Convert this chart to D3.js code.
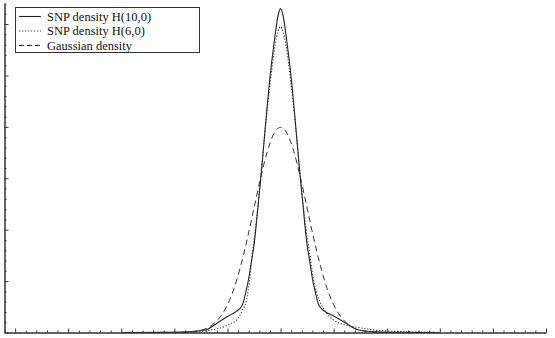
<!DOCTYPE html>
<html><head><meta charset="utf-8">
<script src="https://cdn.jsdelivr.net/npm/d3@7"></script>
<style>body{margin:0;background:#fff}svg{display:block}</style>
</head><body>
<script>
// Series
const snp10X = [-6,-4,-3.5,-3,-2.77,-2.4,-2,-1.7,-1.55,-1.42,-1.32,-1.2,-1.1,-1.0,-0.85,-0.7,-0.55,-0.41,-0.23,-0.1,0,0.1,0.23,0.41,0.55,0.7,0.85,1.0,1.1,1.2,1.32,1.42,1.55,1.7,2.0,2.4,2.88,3.2,3.6,4,6];
const snp10Y = [0,0.0005,0.0015,0.004,0.006,0.018,0.031,0.04,0.046,0.056,0.076,0.105,0.138,0.17,0.245,0.325,0.414,0.491,0.569,0.615,0.63,0.615,0.569,0.491,0.414,0.325,0.245,0.17,0.138,0.105,0.076,0.056,0.046,0.04,0.032,0.02,0.006,0.003,0.0012,0.0005,0];
const snp6X = [-6,-4,-3,-2.6,-2.2,-1.9,-1.64,-1.45,-1.28,-1.17,-1.05,-0.95,-0.75,-0.55,-0.38,-0.2,-0.1,0,0.1,0.2,0.38,0.55,0.75,0.95,1.08,1.25,1.45,1.7,1.98,2.4,2.9,3.5,4.4,5,6];
const snp6Y = [0,0.0003,0.002,0.005,0.01,0.017,0.025,0.042,0.064,0.1,0.16,0.2,0.3,0.41,0.49,0.56,0.585,0.595,0.585,0.56,0.49,0.41,0.3,0.205,0.16,0.1,0.064,0.04,0.025,0.015,0.01,0.005,0.002,0.001,0];
const gaussX = [-6,-5,-4,-3.5,-3.25,-3,-2.75,-2.5,-2.25,-2,-1.75,-1.5,-1.25,-1,-0.75,-0.5,-0.25,0,0.25,0.5,0.75,1,1.25,1.5,1.75,2,2.25,2.5,2.75,3,3.25,3.5,4,5,6];
const gaussY = [0,0,0.0001,0.0009,0.002,0.0044,0.009,0.018,0.032,0.054,0.086,0.13,0.183,0.242,0.301,0.352,0.387,0.399,0.387,0.352,0.301,0.242,0.183,0.13,0.086,0.054,0.032,0.018,0.009,0.0044,0.002,0.0009,0.0001,0,0];
const seriesNames = ["SNP density H(10,0)", "SNP density H(6,0)", "Gaussian density"];
const xMajorTicks = [-10,-8,-6,-4,-2,0,2,4,6,8,10];
const yMajorTicks = [0,0.1,0.2,0.3,0.4,0.5,0.6];

const W = 555, H = 338;
const svg = d3.select("body").append("svg").attr("width", W).attr("height", H);
const x = d3.scaleLinear().domain([-10.4, 10]).range([4.5, 546]);
const y = d3.scaleLinear().domain([0, 0.64]).range([332.5, 3.5]);

// minor tick values
const xMinor = d3.range(-10.4, 10.001, 0.4).map(v => +v.toFixed(2)).filter(v => !xMajorTicks.some(m => Math.abs(m - v) < 1e-6));
const yMinor = d3.range(0, 0.6401, 0.02).map(v => +v.toFixed(3)).filter(v => !yMajorTicks.some(m => Math.abs(m - v) < 1e-6));

const gx = svg.append("g").attr("transform", `translate(0,${y(0)})`);
gx.call(d3.axisTop(x).tickValues(xMajorTicks).tickSize(4).tickFormat("").tickSizeOuter(0));
gx.append("g").call(d3.axisTop(x).tickValues(xMinor).tickSize(2).tickFormat("").tickSizeOuter(0));
const gy = svg.append("g").attr("transform", `translate(${x(-10.4)},0)`);
gy.call(d3.axisRight(y).tickValues(yMajorTicks).tickSize(4).tickFormat("").tickSizeOuter(0));
gy.append("g").call(d3.axisRight(y).tickValues(yMinor).tickSize(2).tickFormat("").tickSizeOuter(0));
svg.selectAll(".domain").attr("stroke", "#333");
svg.selectAll(".tick line").attr("stroke", "#333");

const line = d3.line().x(d => x(d[0])).y(d => y(d[1])).curve(d3.curveMonotoneX);
const styles = [
  {dash: null, w: 1.1, c: "#222"},
  {dash: "1.2,1.8", w: 1.1, c: "#333"},
  {dash: "6,4", w: 1, c: "#333"}
];
const data = [d3.zip(snp10X, snp10Y), d3.zip(snp6X, snp6Y), d3.zip(gaussX, gaussY)];
data.forEach((d, i) => {
  svg.append("path").datum(d).attr("d", line).attr("fill", "none")
    .attr("stroke", styles[i].c).attr("stroke-width", styles[i].w)
    .attr("stroke-dasharray", styles[i].dash);
});

// legend
const lg = svg.append("g");
lg.append("rect").attr("x", 15.5).attr("y", 7.5).attr("width", 184).attr("height", 45)
  .attr("fill", "#fff").attr("stroke", "#333").attr("stroke-width", 1);
seriesNames.forEach((n, i) => {
  const yy = 16.5 + i * 14.5;
  lg.append("line").attr("x1", 19).attr("x2", 41).attr("y1", yy).attr("y2", yy)
    .attr("stroke", styles[i].c).attr("stroke-width", styles[i].w).attr("stroke-dasharray", i === 2 ? "5,3" : styles[i].dash);
  lg.append("text").attr("x", 47).attr("y", yy + 4).text(n)
    .attr("font-family", "Liberation Serif, Times New Roman, serif").attr("font-size", 12.5).attr("fill", "#111");
});
</script>
</body></html>
